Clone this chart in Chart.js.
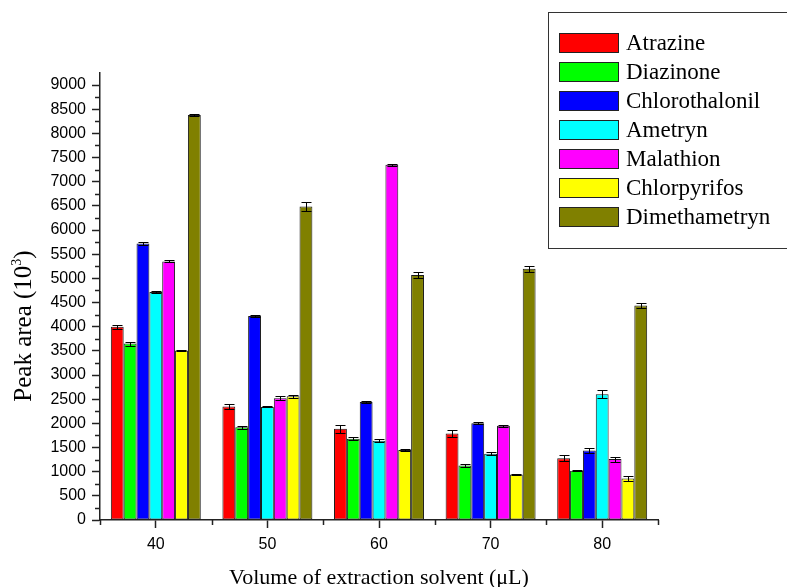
<!DOCTYPE html>
<html>
<head>
<meta charset="utf-8">
<script src="https://cdn.jsdelivr.net/npm/chart.js@4/dist/chart.umd.min.js"></script>
<style>
  html, body { margin: 0; padding: 0; background: #fff; }
  #wrap { width: 787px; height: 587px; }
</style>
</head>
<body>
<div id="wrap"><canvas id="chart" width="787" height="587"></canvas></div>
<script>
// volumes of extraction solvent (uL)
const volumes = ['40', '50', '60', '70', '80'];

const seriesNames = ['Atrazine', 'Diazinone', 'Chlorothalonil', 'Ametryn', 'Malathion', 'Chlorpyrifos', 'Dimethametryn'];
const seriesColors = ['#ff0000', '#00ff00', '#0000ff', '#00ffff', '#ff00ff', '#ffff00', '#808000'];

// peak area (10^3)
const atrazine       = [4000, 2350, 1890, 1790, 1280];
const diazinone      = [3650, 1920, 1680, 1130, 1020];
const chlorothalonil = [5720, 4220, 2440, 2000, 1440];
const ametryn        = [4720, 2340, 1640, 1370, 2600];
const malathion      = [5350, 2520, 7350, 1950, 1260];
const chlorpyrifos   = [3510, 2560, 1450,  940,  860];
const dimethametryn  = [8380, 6490, 5070, 5200, 4440];

// error bars (+/-)
const errAtrazine       = [40, 50, 80, 70, 60];
const errDiazinone      = [40, 30, 30, 30, 15];
const errChlorothalonil = [30, 20, 20, 20, 50];
const errAmetryn        = [20, 10, 30, 30, 80];
const errMalathion      = [20, 40, 20, 20, 50];
const errChlorpyrifos   = [15, 30, 15, 15, 60];
const errDimethametryn  = [15, 90, 60, 60, 60];

const allValues = [atrazine, diazinone, chlorothalonil, ametryn, malathion, chlorpyrifos, dimethametryn];
const allErrors = [errAtrazine, errDiazinone, errChlorothalonil, errAmetryn, errMalathion, errChlorpyrifos, errDimethametryn];

const yTicks = [0, 500, 1000, 1500, 2000, 2500, 3000, 3500, 4000, 4500, 5000, 5500, 6000, 6500, 7000, 7500, 8000, 8500, 9000];
const yMax = 9250;

const serif = '"Liberation Serif", "Times New Roman", serif';
const sans = '"Liberation Sans", Arial, sans-serif';

const datasets = seriesNames.map((name, i) => ({
  label: name,
  data: allValues[i],
  errors: allErrors[i],
  backgroundColor: seriesColors[i],
  borderColor: '#1a1a1a',
  borderWidth: 1,
  borderSkipped: false,
  categoryPercentage: 0.806,
  barPercentage: 1
}));

// error bars drawn on top of the bars
const errorBars = {
  id: 'errorBars',
  afterDatasetsDraw(chart) {
    const ctx = chart.ctx;
    const y = chart.scales.y;
    ctx.save();
    ctx.strokeStyle = '#000';
    ctx.lineWidth = 1;
    chart.data.datasets.forEach((ds, i) => {
      const meta = chart.getDatasetMeta(i);
      meta.data.forEach((bar, j) => {
        const v = ds.data[j];
        const e = ds.errors[j];
        const top = Math.round(y.getPixelForValue(v + e)) + 0.5;
        const bot = Math.round(y.getPixelForValue(v - e)) + 0.5;
        const x = Math.round(bar.x) + 0.5;
        ctx.beginPath();
        ctx.moveTo(x, top); ctx.lineTo(x, bot);
        ctx.moveTo(x - 5, top); ctx.lineTo(x + 5, top);
        ctx.moveTo(x - 5, bot); ctx.lineTo(x + 5, bot);
        ctx.stroke();
      });
    });
    ctx.restore();
  }
};

// minor ticks, axis titles and the boxed legend
const decorations = {
  id: 'decorations',
  afterDraw(chart) {
    const ctx = chart.ctx;
    const { left, right, bottom } = chart.chartArea;
    const x = chart.scales.x;
    const y = chart.scales.y;
    ctx.save();
    ctx.strokeStyle = '#222';
    ctx.lineWidth = 1.5;
    ctx.beginPath();
    for (let v = 250; v < 9000; v += 500) {
      const py = Math.round(y.getPixelForValue(v)) + 0.5;
      ctx.moveTo(left - 5, py); ctx.lineTo(left, py);
    }
    const n = volumes.length;
    for (let k = 0; k <= n; k++) {
      const px = Math.round(left + (right - left) * k / n) + 0.5;
      ctx.moveTo(px, bottom); ctx.lineTo(px, bottom + 5);
    }
    ctx.stroke();

    // x title
    ctx.fillStyle = '#000';
    ctx.font = '22px ' + serif;
    ctx.textAlign = 'center';
    ctx.textBaseline = 'alphabetic';
    ctx.fillText('Volume of extraction solvent (\u03bcL)', (left + right) / 2, 584);

    // y title with superscript
    ctx.translate(31, 326);
    ctx.rotate(-Math.PI / 2);
    const main = 'Peak area (10';
    ctx.font = '25px ' + serif;
    const w1 = ctx.measureText(main).width;
    const w3 = ctx.measureText(')').width;
    ctx.font = '14px ' + serif;
    const w2 = ctx.measureText('3').width;
    let cx = -(w1 + w2 + w3) / 2;
    ctx.textAlign = 'left';
    ctx.font = '25px ' + serif;
    ctx.fillText(main, cx, 0);
    cx += w1;
    ctx.font = '14px ' + serif;
    ctx.fillText('3', cx, -10);
    cx += w2;
    ctx.font = '25px ' + serif;
    ctx.fillText(')', cx, 0);
    ctx.setTransform(1, 0, 0, 1, 0, 0);

    // legend
    ctx.strokeStyle = '#333';
    ctx.lineWidth = 1;
    ctx.strokeRect(548.5, 12.5, 260, 236);
    ctx.font = '23px ' + serif;
    ctx.textBaseline = 'middle';
    ctx.textAlign = 'left';
    chart.data.datasets.forEach((ds, i) => {
      const sy = 33 + i * 29;
      ctx.fillStyle = ds.backgroundColor;
      ctx.fillRect(559, sy, 60, 20);
      ctx.strokeStyle = '#222';
      ctx.strokeRect(559.5, sy + 0.5, 59, 19);
      ctx.fillStyle = '#000';
      ctx.fillText(ds.label, 626, sy + 11);
    });
    ctx.restore();
  }
};

new Chart(document.getElementById('chart'), {
  type: 'bar',
  data: { labels: volumes, datasets },
  options: {
    responsive: false,
    animation: false,
    events: [],
    layout: { padding: { top: 73, right: 129, left: 0, bottom: 0 } },
    plugins: {
      legend: { display: false },
      tooltip: { enabled: false }
    },
    scales: {
      x: {
        offset: true,
        afterFit: (s) => { s.height = 67; },
        grid: { display: true, offset: false, drawOnChartArea: false, drawTicks: true, tickLength: 8, tickColor: '#222', tickWidth: 1.5 },
        border: { display: true, color: '#222', width: 1.5 },
        ticks: { color: '#000', font: { family: sans, size: 16 }, padding: 7, maxRotation: 0 }
      },
      y: {
        min: 0,
        max: yMax,
        afterFit: (s) => { s.width = 100; },
        afterBuildTicks: (s) => { s.ticks = yTicks.map((v) => ({ value: v })); },
        grid: { display: true, drawOnChartArea: false, drawTicks: true, tickLength: 8, tickColor: '#222', tickWidth: 1.5 },
        border: { display: true, color: '#222', width: 1.5 },
        ticks: { color: '#000', font: { family: sans, size: 16 }, padding: 6, callback: (v) => String(v) }
      }
    }
  },
  plugins: [errorBars, decorations]
});
</script>
</body>
</html>
